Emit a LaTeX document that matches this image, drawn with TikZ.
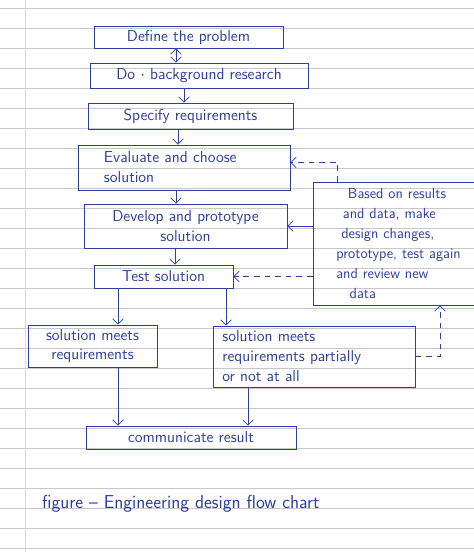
\documentclass[tikz,border=0pt]{standalone}
\usepackage{tikz}
\usetikzlibrary{arrows.meta, positioning, calc}
\definecolor{Ink}{HTML}{2F3F9C}
\definecolor{Rule}{HTML}{C8C8C8}
\definecolor{Margin}{HTML}{F2D0D0}

\begin{document}
\begin{tikzpicture}[x=0.03cm, y=-0.03cm,
          fbox/.style={rectangle, draw=Ink, line width=0.7pt, inner sep=3pt,
                        font=\sffamily\fontsize{13.5}{17}\selectfont, align=center, text=Ink},
          arr/.style={-{Straight Barb[length=1.6mm]}, line width=0.6pt, color=Ink},
          darr/.style={arr, dash pattern=on 5pt off 4pt},
          rule/.style={color=Rule, line width=0.4pt}
        ]
          \useasboundingbox[fill=white] (0,0) rectangle (474,552);
          \clip (0,0) rectangle (474,552);
          % ruled paper
          \foreach \yy in {8,28,...,548} \draw[rule] (0,\yy) -- (474,\yy);
          \draw[color=Margin, line width=0.5pt] (25,0) -- (25,552);

          \node[fbox, minimum width=5.67cm, minimum height=0.66cm] (p1) at (188.5,37) {Define the problem};
          \node[fbox, minimum width=6.54cm, minimum height=0.75cm] (p2) at (199,75.5) {Do $\cdot$ background research};
          \node[fbox, minimum width=6.15cm, minimum height=0.78cm] (p3) at (190.5,116) {Specify requirements};
          \node[fbox, minimum width=6.36cm, minimum height=1.35cm, text width=5.9cm, align=left] (p4) at (184,167.5) {\hspace*{0.55cm}Evaluate and choose\\ \hspace*{0.55cm}solution};
          \node[fbox, minimum width=6.09cm, minimum height=1.32cm] (p5) at (185.5,226) {Develop and prototype\\ solution};
          \node[fbox, minimum width=4.17cm, minimum height=0.69cm] (p6) at (163.5,276.5) {Test solution};
          \node[fbox, font=\sffamily\fontsize{12.5}{17}\selectfont, minimum width=6.3cm, minimum height=3.69cm, text width=4.9cm, align=left] (p7) at (418,243.5) {\hspace*{0.35cm}Based on results\\ \hspace*{0.2cm}and data, make\\ \hspace*{0.15cm}design changes,\\ prototype, test again\\ and review new\\ \hspace*{0.4cm}data};
          \node[fbox, minimum width=3.87cm, minimum height=1.26cm] (p8) at (92.5,346) {solution meets\\ requirements};
          \node[fbox, minimum width=6.06cm, minimum height=1.83cm, text width=5.5cm, align=left] (p9) at (314,356.5) {solution meets\\ requirements partially\\ or not at all};
          \node[fbox, minimum width=6.3cm, minimum height=0.69cm] (p10) at (191,437.5) {communicate result};
          \node[font=\sffamily\fontsize{16}{18}\selectfont, text=Ink, anchor=west] (cap) at (38,504) {figure -- Engineering design flow chart};

          \draw[arr, {Straight Barb[length=1.6mm]}-{Straight Barb[length=1.6mm]}] ($(p1.south)+(-12.5,0)$) -- ($(p2.north)+(-23,0)$);
          \draw[arr] ($(p2.south)+(-15,0)$) -- ($(p3.north)+(-6.5,0)$);
          \draw[arr] ($(p3.south)+(-12.5,0)$) -- ($(p4.north)+(-6,0)$);
          \draw[arr] ($(p4.south)+(-8,0)$) -- ($(p5.north)+(-9.5,0)$);
          \draw[arr] ($(p5.south)+(-10.5,0)$) -- ($(p6.north)+(11.5,0)$);
          \draw[arr] ($(p6.south)+(-45.5,0)$) -- ($(p8.north)+(25.5,0)$);
          \draw[arr] ($(p6.south)+(62.5,0)$) -- ($(p9.north)+(-88,0)$);
          \draw[arr] ($(p8.south)+(25.5,0)$) -- ($(p10.north)+(-73,0)$);
          \draw[arr] ($(p9.south)+(-66,0)$) -- ($(p10.north)+(57,0)$);

          \draw[arr] (p7.west |- p5.east) -- (p5.east);
          \draw[darr] (p7.west |- p6.east) -- (p6.east);
          \draw[darr] ($(p7.north west)+(25,0)$) |- ($(p4.east)+(0,-5)$);
          \draw[darr] (p9.east) -| ($(p7.south)+(22,0)$);
        \end{tikzpicture}
\end{document}
